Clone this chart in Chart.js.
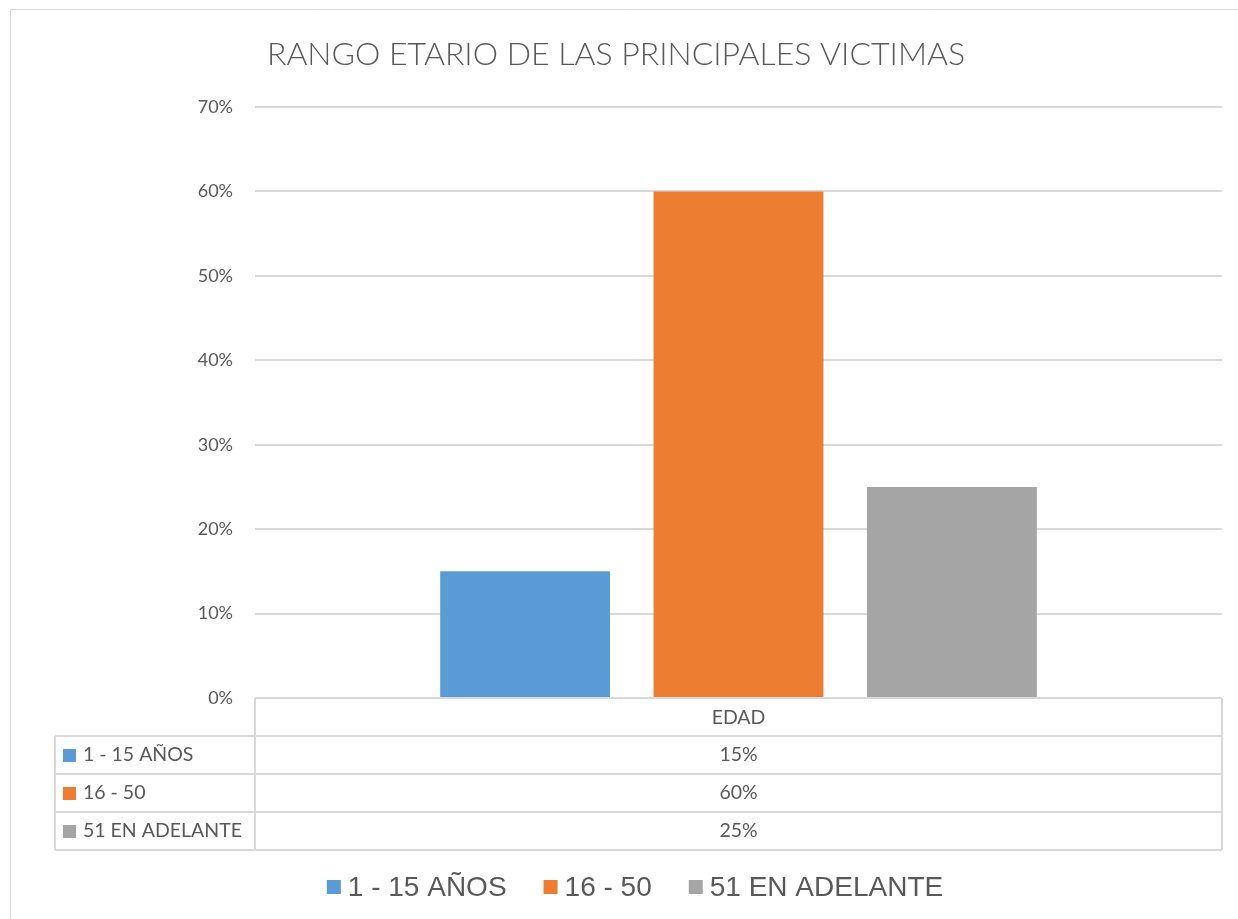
<!DOCTYPE html>
<html>
<head>
<meta charset="utf-8">
<script src="https://cdn.jsdelivr.net/npm/chart.js@4.4.0/dist/chart.umd.min.js"></script>
<style>
    html, body { margin: 0; padding: 0; background: #ffffff; }
    #wrap { width: 1238px; height: 919px; }
</style>
</head>
<body>
<div id="wrap"><canvas id="chart" width="1238" height="919"></canvas></div>
<script>
// Chart data
const chartTitle = 'RANGO ETARIO DE LAS PRINCIPALES VICTIMAS';
const categories = ['EDAD'];
const seriesNames = ['1 - 15 AÑOS', '16 - 50', '51 EN ADELANTE'];
const seriesValues = [15, 60, 25];
const seriesColors = ['#5b9bd5', '#ed7d31', '#a5a5a5'];
const yTicks = [0, 10, 20, 30, 40, 50, 60, 70];

const gridColor = '#d9d9d9';
const textColor = '#595959';
const rowHeight = 38;

// draws the excel-like data table under the plot, the legend and the outer frame
const dataTablePlugin = {
    id: 'dataTable',
    afterDraw(chart) {
        const ctx = chart.ctx;
        const area = chart.chartArea;
        const left = area.left, right = area.right, top = area.bottom;
        const keyLeft = 55;
        ctx.save();
        ctx.strokeStyle = gridColor;

        // frame
        ctx.beginPath();
        ctx.lineWidth = 1;
        ctx.rect(10.5, 9.5, 1240, 920);
        ctx.stroke();
        ctx.lineWidth = 2;

        const bottom = top + rowHeight * (seriesNames.length + 1);
        ctx.beginPath();
        ctx.moveTo(left, top); ctx.lineTo(left, bottom);
        ctx.moveTo(right, top); ctx.lineTo(right, bottom);
        ctx.moveTo(keyLeft, top + rowHeight); ctx.lineTo(keyLeft, bottom);
        for (let i = 1; i <= seriesNames.length + 1; i++) {
            const y = top + rowHeight * i;
            ctx.moveTo(keyLeft, y); ctx.lineTo(right, y);
        }
        ctx.stroke();

        ctx.font = '19.5px Lato';
        ctx.fillStyle = textColor;
        ctx.textBaseline = 'middle';
        ctx.textAlign = 'center';
        const cx = chart.scales.x.getPixelForValue(0);
        ctx.fillText(categories[0], cx, top + rowHeight / 2 + 1);

        seriesNames.forEach((name, i) => {
            const y = top + rowHeight * (i + 1) + rowHeight / 2;
            ctx.textAlign = 'center';
            ctx.fillStyle = textColor;
            ctx.fillText(seriesValues[i] + '%', cx, y);
            ctx.fillStyle = seriesColors[i];
            ctx.fillRect(keyLeft + 8, y - 6, 13, 13);
            ctx.fillStyle = textColor;
            ctx.textAlign = 'left';
            ctx.fillText(name, keyLeft + 28, y);
        });

        // legend
        ctx.font = '28px "Liberation Sans"';
        const widths = seriesNames.map(n => ctx.measureText(n).width);
        const total = widths.reduce((a, w) => a + 14 + 7 + w, 0) + 37 * (seriesNames.length - 1);
        let x = 635 - total / 2;
        const ly = 887;
        seriesNames.forEach((name, i) => {
            ctx.fillStyle = seriesColors[i];
            ctx.fillRect(x, ly - 7, 14, 14);
            ctx.fillStyle = textColor;
            ctx.textAlign = 'left';
            ctx.fillText(name, x + 21, ly + 1);
            x += 21 + widths[i] + 37;
        });
        ctx.restore();
    }
};

const datasets = seriesNames.map((name, i) => ({
    label: name,
    data: [seriesValues[i]],
    backgroundColor: seriesColors[i],
    borderWidth: 0,
    categoryPercentage: 0.662,
    barPercentage: 0.796
}));

new Chart(document.getElementById('chart').getContext('2d'), {
    type: 'bar',
    data: {
        labels: categories,
        datasets: datasets
    },
    options: {
        responsive: false,
        animation: false,
        devicePixelRatio: 1,
        layout: {
            padding: { left: 10, right: 16, top: 0, bottom: 52 }
        },
        plugins: {
            title: {
                display: true,
                text: chartTitle,
                color: textColor,
                font: { family: 'Lato', size: 32, weight: '300' },
                padding: { top: 35, bottom: 33.6 }
            },
            legend: { display: false },
            tooltip: { enabled: false }
        },
        scales: {
            x: {
                ticks: { display: false },
                grid: { display: false },
                border: { display: false },
                afterFit(scale) { scale.height = 169; }
            },
            y: {
                min: 0,
                max: 70,
                afterBuildTicks(scale) {
                    scale.ticks = yTicks.map(v => ({ value: v }));
                },
                ticks: {
                    color: textColor,
                    font: { family: 'Lato', size: 18 },
                    padding: 22,
                    callback: function(value) {
                        return value + '%';
                    }
                },
                grid: { color: gridColor, lineWidth: 2, drawTicks: false },
                border: { display: false },
                afterFit(scale) { scale.width = 245; }
            }
        }
    },
    plugins: [dataTablePlugin]
});
</script>
</body>
</html>
